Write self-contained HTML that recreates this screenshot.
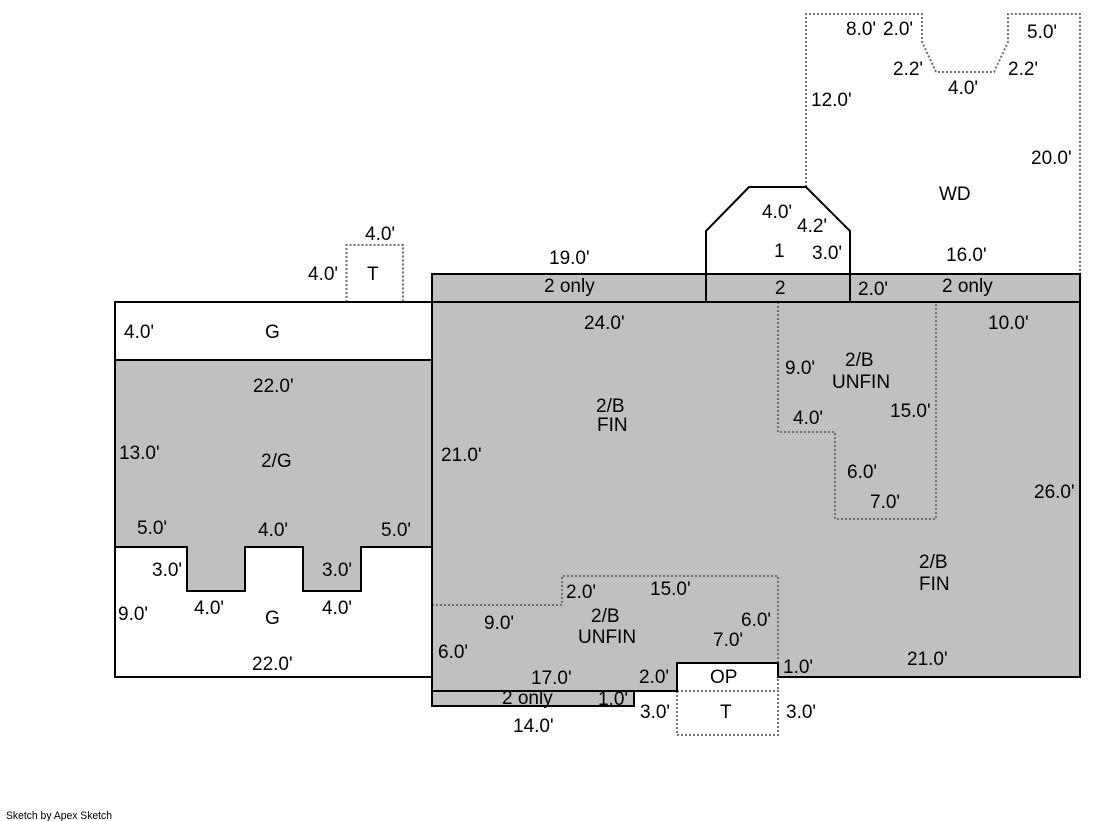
<!DOCTYPE html>
<html>
<head>
<meta charset="utf-8">
<style>
html,body{margin:0;padding:0;background:#fff;}
svg{display:block;}
text{font-family:"Liberation Sans",Arial,sans-serif;font-size:19px;fill:#000;}
.s{fill:none;stroke:#000;stroke-width:2;}
.d{fill:none;stroke:#707070;stroke-width:2;stroke-dasharray:2 2;}
</style>
</head>
<body>
<svg width="1119" height="821" viewBox="0 0 1119 821" xmlns="http://www.w3.org/2000/svg">
<rect width="1119" height="821" fill="#fff"/>
<!-- fills -->
<polygon fill="#c0c0c0" points="432,274 1080,274 1080,677 778,677 778,663 677,663 677,691 634,691 634,706 432,706"/>
<polygon fill="#c0c0c0" points="115,360 432,360 432,547 361,547 361,591 303,591 303,547 245,547 245,591 187,591 187,547 115,547"/>
<!-- dashed -->
<polyline class="d" points="806,187 806,14 922,14 922,42 936,72 994,72 1008,42 1008,14 1080,14 1080,274"/>
<polyline class="d" points="346.5,302 346.5,245 403,245 403,302"/>
<polyline class="d" points="778,302 778,432 835,432 835,519 936,519 936,302"/>
<polyline class="d" points="432,605 562,605 562,576 778,576 778,663"/>
<polyline class="d" points="677,691 778,691 778,735 677,735 677,691"/>
<line class="d" x1="778" y1="663" x2="778" y2="691"/>
<!-- solid -->
<polyline class="s" points="432,302 115,302 115,677 432,677"/>
<line class="s" x1="115" y1="360" x2="432" y2="360"/>
<polyline class="s" points="115,547 187,547 187,591 245,591 245,547 303,547 303,591 361,591 361,547 432,547"/>
<polygon class="s" points="432,274 1080,274 1080,677 778,677 778,663 677,663 677,691 634,691 634,706 432,706"/>
<line class="s" x1="432" y1="302" x2="1080" y2="302"/>
<line class="s" x1="432" y1="691" x2="677" y2="691"/>
<polyline class="s" points="706,302 706,231 749,187 806,187 850,231 850,302"/>
<!-- labels -->
<text x="549" y="264">19.0'</text>
<text x="544" y="292">2 only</text>
<text x="365" y="240">4.0'</text>
<text x="308" y="280">4.0'</text>
<text x="367" y="280">T</text>
<text x="124" y="338">4.0'</text>
<text x="265" y="338">G</text>
<text x="253" y="392">22.0'</text>
<text x="119" y="459">13.0'</text>
<text x="261" y="467">2/G</text>
<text x="137" y="534">5.0'</text>
<text x="258" y="536">4.0'</text>
<text x="381" y="536">5.0'</text>
<text x="152" y="576">3.0'</text>
<text x="322" y="576">3.0'</text>
<text x="194" y="614">4.0'</text>
<text x="322" y="614">4.0'</text>
<text x="118" y="620">9.0'</text>
<text x="265" y="624">G</text>
<text x="252" y="670">22.0'</text>
<text x="584" y="329">24.0'</text>
<text x="596" y="412">2/B</text>
<text x="597" y="431">FIN</text>
<text x="441" y="461">21.0'</text>
<text x="566" y="598">2.0'</text>
<text x="650" y="595">15.0'</text>
<text x="591" y="622">2/B</text>
<text x="578" y="643">UNFIN</text>
<text x="484" y="629">9.0'</text>
<text x="741" y="626">6.0'</text>
<text x="713" y="646">7.0'</text>
<text x="438" y="658">6.0'</text>
<text x="531" y="684">17.0'</text>
<text x="639" y="683">2.0'</text>
<text x="783" y="673">1.0'</text>
<text x="710" y="683">OP</text>
<text x="502" y="704">2 only</text>
<text x="598" y="705">1.0'</text>
<text x="640" y="718">3.0'</text>
<text x="720" y="718">T</text>
<text x="786" y="718">3.0'</text>
<text x="513" y="732">14.0'</text>
<text x="762" y="218">4.0'</text>
<text x="797" y="232">4.2'</text>
<text x="774" y="257">1</text>
<text x="812" y="259">3.0'</text>
<text x="946" y="261">16.0'</text>
<text x="939" y="200">WD</text>
<text x="775" y="294">2</text>
<text x="858" y="295">2.0'</text>
<text x="942" y="292">2 only</text>
<text x="846" y="35">8.0'</text>
<text x="883" y="35">2.0'</text>
<text x="1027" y="38">5.0'</text>
<text x="893" y="75">2.2'</text>
<text x="1008" y="75">2.2'</text>
<text x="948" y="94">4.0'</text>
<text x="811" y="106">12.0'</text>
<text x="1031" y="164">20.0'</text>
<text x="988" y="329">10.0'</text>
<text x="785" y="374">9.0'</text>
<text x="845" y="366">2/B</text>
<text x="832" y="388">UNFIN</text>
<text x="890" y="417">15.0'</text>
<text x="793" y="424">4.0'</text>
<text x="847" y="478">6.0'</text>
<text x="870" y="508">7.0'</text>
<text x="1034" y="498">26.0'</text>
<text x="919" y="568">2/B</text>
<text x="919" y="590">FIN</text>
<text x="907" y="665">21.0'</text>
<text x="6" y="819" style="font-size:11px" textLength="106" lengthAdjust="spacingAndGlyphs">Sketch by Apex Sketch</text>
</svg>
</body>
</html>
